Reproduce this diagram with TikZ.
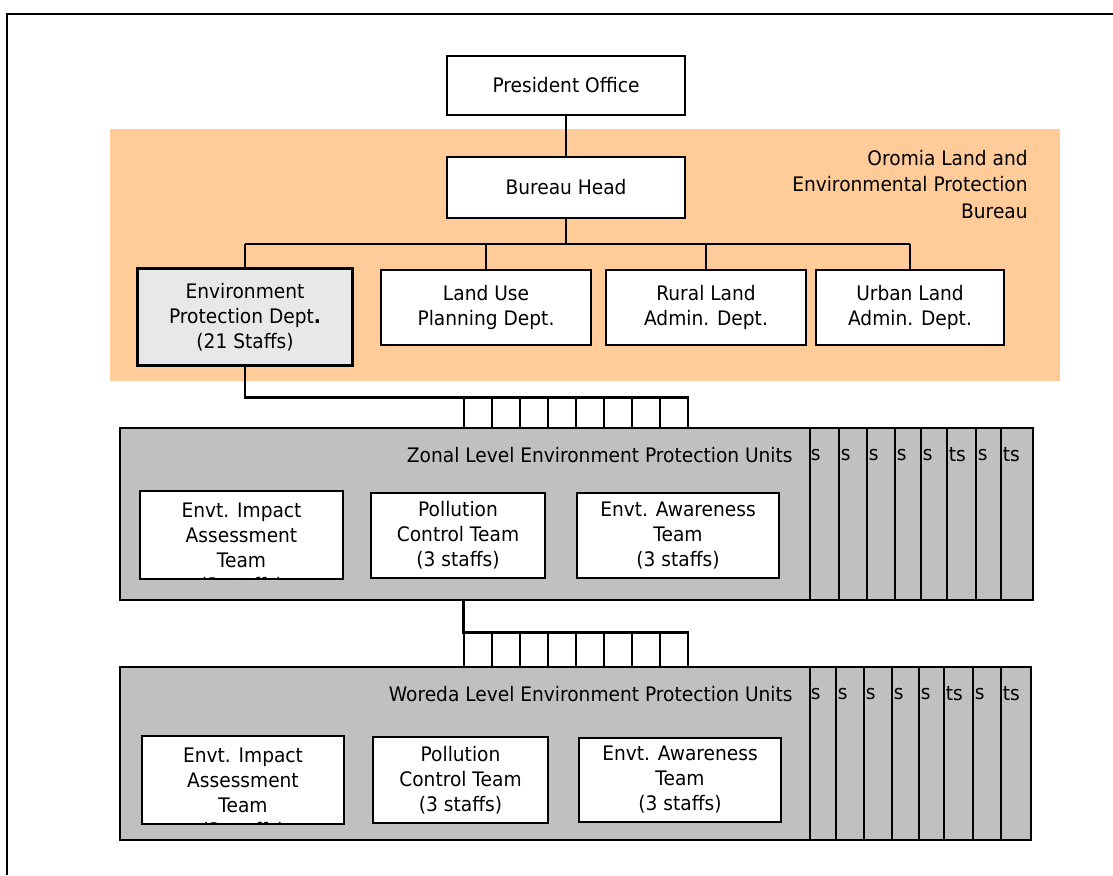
\documentclass[tikz,border=0pt]{standalone}
\usepackage{fontspec}
\setmainfont[FakeStretch=0.93]{DejaVu Sans}
\usepackage{xcolor}
\definecolor{bureauOrange}{HTML}{FFCC99}
\definecolor{unitGray}{HTML}{C0C0C0}
\definecolor{deptGray}{HTML}{E8E8E8}
\usepackage{tikz}
\usetikzlibrary{calc,positioning}

\begin{document}
\begin{tikzpicture}[x=0.5pt, y=-0.5pt,
  every node/.style={font=\fontsize{10pt}{12.5pt}\selectfont, align=center, inner sep=0pt},
  box/.style={draw, line width=0.9pt, fill=white},
  cell/.style={draw, line width=0.6pt, fill=white, minimum width=14pt, minimum height=15pt},
  strip/.style={draw, line width=0.9pt, fill=unitGray},
  conn/.style={line width=0.6pt},
  thickconn/.style={line width=1.4pt}]
  \useasboundingbox (0,0) rectangle (1113,875);
  % page frame, only its top and left edges fall inside
  \draw[line width=1pt] (6.5,875) -- (6.5,13.5) -- (1113,13.5);

  % ------- bureau -------
  \fill[bureauOrange] (110,129) rectangle (1060,381);
  \node[box, minimum width=119pt, minimum height=29.5pt] (pres) at (566,85.5) {President Office};
  \node[box, minimum width=119pt, minimum height=30.5pt] (head) at (566,187.5) {Bureau Head};
  \node[anchor=east, align=right, font=\fontsize{10pt}{13.2pt}\selectfont] (bureau) at (1028,184.5)
    {Oromia Land and\\Environmental Protection\\Bureau};
  \node[box, fill=deptGray, line width=1.75pt, minimum width=107.5pt, minimum height=48.5pt] (envdept) at (245,317)
    {Environment\\Protection Dept\textbf{.}\\(21 Staffs)};
  \node[box, minimum width=105pt, minimum height=37.5pt] (landuse) at (486,307.5) {Land Use\\Planning Dept.};
  \node[box, minimum width=100pt, minimum height=37.5pt] (rural) at (706,307.5) {Rural Land\\Admin. Dept.};
  \node[box, minimum width=94pt, minimum height=37.5pt] (urban) at (910,307.5) {Urban Land\\Admin. Dept.};
  \coordinate (bar) at (566,244);
  \draw[line width=1pt] (pres) -- (head);
  \draw[line width=1pt] (head) -- (bar);
  \draw[conn] (envdept.north |- bar) -- (urban.north |- bar);
  \foreach \d in {envdept,landuse,rural,urban}
    \draw[conn] (\d.north) -- (\d.north |- bar);

  % ------- zonal units -------
  % copies stacked behind, only their right ends show
  \foreach \a/\b/\t [count=\i] in {809/839/s,839/867/s,867/895/s,895/921/s,921/947/s,947/976/ts,976/1001/s,1001/1033/ts} {
    \draw[strip] (\a,428) rectangle (\b,600);
    \node[anchor=west] (zs\i) at (\a+1.5,455) {\t};
  }
  \node[strip, minimum width=345pt, minimum height=86pt] (zonal) at (465,514) {};
  \node[anchor=east] (zlabel) at (793,455) {Zonal Level Environment Protection Units};
  \foreach \i in {0,...,7}
    \node[cell] (zc\i) at ({478+28*\i},413) {};
  \draw[thickconn] (envdept.south) |- (zc7.north east);
  \node[box, minimum width=101.5pt, minimum height=44pt] (zeia) at (241.5,535) {Envt. Impact\\Assessment\\Team};
  \begin{scope}
    \clip ([yshift=1pt]zeia.south west) rectangle (zeia.north east);
    \node[anchor=base] (zeiax) at (241.5,592) {(3 staffs)};
  \end{scope}
  \node[box, minimum width=87pt, minimum height=42.5pt] (zpct) at (458,535.5) {Pollution\\Control Team\\(3 staffs)};
  \node[box, minimum width=101pt, minimum height=42.5pt] (zeat) at (678,535.5) {Envt. Awareness\\Team\\(3 staffs)};

  % ------- woreda units -------
  \foreach \a/\b/\t [count=\i] in {809/836/s,836/864/s,864/892/s,892/919/s,919/944/s,944/973/ts,973/1001/s,1001/1031/ts} {
    \draw[strip] (\a,667) rectangle (\b,840);
    \node[anchor=west] (ws\i) at (\a+1.5,694) {\t};
  }
  \node[strip, minimum width=345pt, minimum height=86.5pt] (woreda) at (465,753.5) {};
  \node[anchor=east] (wlabel) at (793,694) {Woreda Level Environment Protection Units};
  \foreach \i in {0,...,7}
    \node[cell, minimum height=17pt] (wc\i) at ({478+28*\i},650) {};
  \draw[thickconn] (zonal.south -| wc0.north west) -- (wc0.north west) -- (wc7.north east);
  \node[box, minimum width=101pt, minimum height=44pt] (weia) at (243,780) {Envt. Impact\\Assessment\\Team};
  \begin{scope}
    \clip ([yshift=1pt]weia.south west) rectangle (weia.north east);
    \node[anchor=base] (weiax) at (243,837) {(3 staffs)};
  \end{scope}
  \node[box, minimum width=87.5pt, minimum height=43pt] (wpct) at (460.5,780) {Pollution\\Control Team\\(3 staffs)};
  \node[box, minimum width=101pt, minimum height=42pt] (weat) at (680,780) {Envt. Awareness\\Team\\(3 staffs)};
\end{tikzpicture}
\end{document}
